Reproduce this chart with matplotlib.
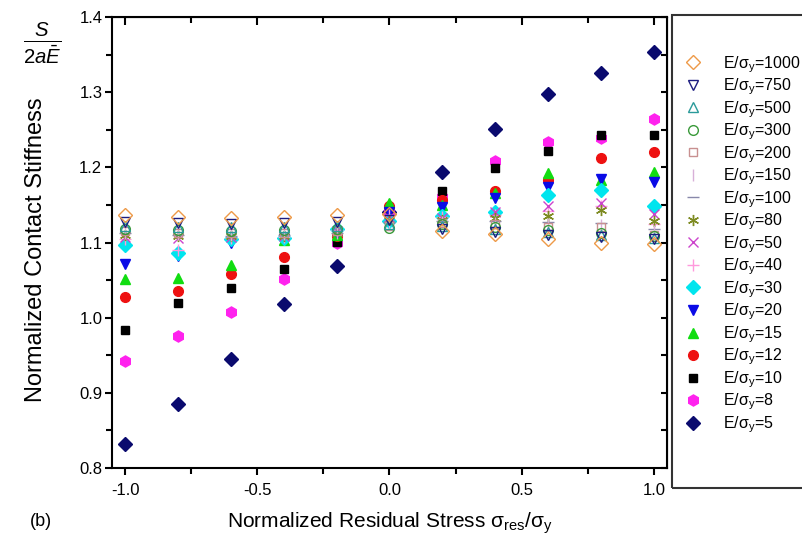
import numpy as np
import matplotlib
matplotlib.use("Agg")
import matplotlib.pyplot as plt
from matplotlib.patches import Rectangle

plt.rcParams['font.family'] = ['Liberation Sans', 'DejaVu Sans']
plt.rcParams['mathtext.fontset'] = 'custom'
plt.rcParams['mathtext.rm'] = 'Liberation Sans'
plt.rcParams['mathtext.it'] = 'Liberation Sans:italic'
plt.rcParams['mathtext.bf'] = 'Liberation Sans:bold'

# residual stress positions
x = [-1.0, -0.8, -0.6, -0.4, -0.2, 0.0, 0.2, 0.4, 0.6, 0.8, 1.0]

# E/sigma_y values (legend order)
ratios = [1000, 750, 500, 300, 200, 150, 100, 80, 50, 40, 30, 20, 15, 12, 10, 8, 5]

s1000 = [1.136, 1.134, 1.133, 1.134, 1.136, 1.138, 1.115, 1.111, 1.105, 1.100, 1.098]
s750 = [1.127, 1.126, 1.125, 1.126, 1.127, 1.130, 1.118, 1.114, 1.110, 1.107, 1.105]
s500 = [1.122, 1.121, 1.120, 1.121, 1.122, 1.125, 1.122, 1.118, 1.114, 1.110, 1.106]
s300 = [1.118, 1.117, 1.115, 1.117, 1.118, 1.119, 1.124, 1.121, 1.117, 1.113, 1.108]
s200 = [1.115, 1.113, 1.112, 1.113, 1.115, 1.122, 1.126, 1.124, 1.120, 1.121, 1.110]
s150 = [1.113, 1.111, 1.110, 1.111, 1.113, 1.125, 1.127, 1.126, 1.124, 1.123, 1.115]
s100 = [1.112, 1.110, 1.109, 1.110, 1.112, 1.127, 1.129, 1.128, 1.127, 1.126, 1.118]
s80 = [1.110, 1.108, 1.108, 1.109, 1.112, 1.130, 1.130, 1.132, 1.135, 1.143, 1.129]
s50 = [1.107, 1.106, 1.107, 1.108, 1.115, 1.134, 1.133, 1.140, 1.148, 1.153, 1.138]
s40 = [1.104, 1.090, 1.106, 1.107, 1.117, 1.136, 1.134, 1.137, 1.142, 1.148, 1.125]
s30 = [1.097, 1.086, 1.104, 1.106, 1.118, 1.128, 1.135, 1.141, 1.163, 1.170, 1.148]
s20 = [1.072, 1.082, 1.099, 1.104, 1.112, 1.140, 1.147, 1.159, 1.174, 1.185, 1.181]
s15 = [1.052, 1.053, 1.070, 1.103, 1.110, 1.153, 1.150, 1.166, 1.192, 1.183, 1.194]
s12 = [1.027, 1.036, 1.058, 1.081, 1.108, 1.148, 1.157, 1.169, 1.183, 1.213, 1.220]
s10 = [0.983, 1.020, 1.040, 1.065, 1.101, 1.145, 1.169, 1.199, 1.222, 1.243, 1.243]
s8 = [0.942, 0.976, 1.008, 1.051, 1.099, 1.140, 1.161, 1.208, 1.234, 1.239, 1.264]
s5 = [0.832, 0.885, 0.945, 1.018, 1.069, 1.140, 1.194, 1.251, 1.298, 1.325, 1.353]

series = [s1000, s750, s500, s300, s200, s150, s100, s80, s50, s40,
          s30, s20, s15, s12, s10, s8, s5]

# marker, color, filled, size
styles = [
    ('D', '#EE9A48', False, 7),
    ('v', '#1C1C80', False, 7.5),
    ('^', '#2A9A9A', False, 7.5),
    ('o', '#3A9A3A', False, 7),
    ('s', '#C89090', False, 6),
    ('|', '#D8B0D8', False, 8),
    ('_', '#8888AA', False, 8),
    ((6, 2, 0), '#7E8B22', False, 8),
    ('x', '#CC44CC', False, 7),
    ('+', '#FF99DD', False, 8),
    ('D', '#00E5EE', True, 7),
    ('v', '#0A0AE6', True, 7.5),
    ('^', '#11DD11', True, 7.5),
    ('o', '#EE1111', True, 7),
    ('s', '#000000', True, 6),
    ('h', '#FF22EE', True, 8),
    ('D', '#0A0A6E', True, 7),
]

fig = plt.figure(figsize=(8.03, 5.52), dpi=100)
ax = fig.add_axes([112 / 803, 84 / 552, 555 / 803, 451 / 552])

handles = [None] * len(series)
# draw the small ratios first so larger ratios sit on top
for i in range(len(series) - 1, -1, -1):
    m, c, filled, ms = styles[i]
    if filled:
        h, = ax.plot(x, series[i], linestyle='none', marker=m, color=c,
                     markersize=ms, markeredgecolor=c)
    else:
        h, = ax.plot(x, series[i], linestyle='none', marker=m, color=c,
                     markersize=ms, markerfacecolor='none', markeredgecolor=c,
                     markeredgewidth=1.0)
    handles[i] = h

labels = [r'E/σ$_{\mathrm{y}}$=%d' % r for r in ratios]

ax.set_xlim(-1.05, 1.05)
ax.set_ylim(0.8, 1.4)
ax.set_xticks([-1.0, -0.5, 0.0, 0.5, 1.0])
ax.set_xticks(np.arange(-1.0, 1.01, 0.25), minor=True)
ax.set_yticks(np.arange(0.8, 1.401, 0.1))
ax.set_yticks(np.arange(0.8, 1.401, 0.05), minor=True)
ax.xaxis.set_major_formatter(plt.FormatStrFormatter('%.1f'))
ax.yaxis.set_major_formatter(plt.FormatStrFormatter('%.1f'))

for s in ax.spines.values():
    s.set_linewidth(1.5)
ax.tick_params(which='both', direction='out', width=1.5, labelsize=12,
               top=False, right=False)
ax.tick_params(which='major', length=5)
ax.tick_params(which='minor', length=4)
ax.tick_params(axis='y', pad=2)
ax.tick_params(axis='x', pad=6)

# mirrored inward ticks on top and right
axt = ax.secondary_xaxis('top')
axt.set_xticks([-1.0, -0.5, 0.0, 0.5, 1.0])
axt.set_xticks(np.arange(-1.0, 1.01, 0.25), minor=True)
axt.tick_params(which='both', direction='in', width=1.5, labeltop=False)
axt.tick_params(which='major', length=6)
axt.tick_params(which='minor', length=4.5)
axr = ax.secondary_yaxis('right')
axr.set_yticks(np.arange(0.8, 1.401, 0.1))
axr.set_yticks(np.arange(0.8, 1.401, 0.05), minor=True)
axr.tick_params(which='both', direction='in', width=1.5, labelright=False, length=4.5)

ax.set_xlabel('Normalized Residual Stress σ$_{\\mathrm{res}}$/σ$_{\\mathrm{y}}$',
              fontsize=15)
ax.xaxis.set_label_coords(0.5, -0.095)
ax.set_ylabel('Normalized Contact Stiffness', fontsize=17)
ax.yaxis.set_label_coords(-0.117, 0.483)

fig.text(42 / 803, 1 - 43 / 552, r'$\frac{S}{2a\bar{E}}$', fontsize=21,
         ha='center', va='center')
fig.text(41 / 803, 1 - 522 / 552, '(b)', fontsize=13, ha='center', va='center')

# legend box (runs off the right edge like the original)
fig.add_artist(Rectangle((672 / 803, 64 / 552), 160 / 803, 473 / 552,
                         transform=fig.transFigure, fill=False,
                         linewidth=1.5, edgecolor='#333333', clip_on=False))
fig.legend(handles, labels, loc='upper left',
           bbox_to_anchor=(683 / 803, 1 - 54 / 552),
           frameon=False, fontsize=11.5, handlelength=1.2, handletextpad=1.3,
           labelspacing=0.12, borderpad=0, borderaxespad=0)

fig.savefig('out.png', dpi=100)
